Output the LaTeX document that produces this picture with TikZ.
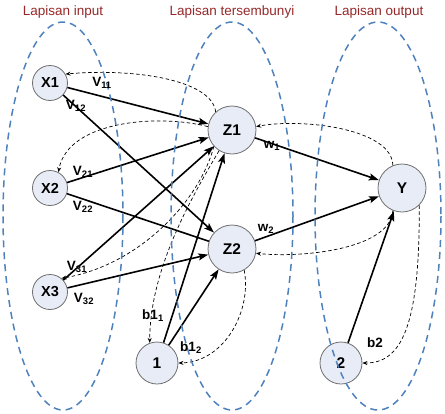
\documentclass[tikz,border=0pt]{standalone}
\usepackage{fontspec}
\setmainfont{Liberation Sans}
\usetikzlibrary{arrows.meta}
\definecolor{layerblue}{RGB}{79,129,189}
\definecolor{nodefill}{RGB}{232,236,246}
\definecolor{nodeline}{RGB}{110,110,110}
\definecolor{titlered}{RGB}{150,40,40}
\begin{document}
\begin{tikzpicture}[x=1pt,y=-1pt,
  neuron/.style={circle,draw=nodeline,line width=0.8pt,fill=nodefill,inner sep=0pt,font=\fontsize{15.5}{15.5}\selectfont\bfseries},
  xin/.style={neuron,minimum size=35pt,font=\fontsize{14.5}{14.5}\selectfont\bfseries},
  hid/.style={neuron,minimum size=48pt},
  bias/.style={neuron,minimum size=42pt},
  conn/.style={line width=1.6pt,-{Stealth[length=10pt,width=7pt,inset=2pt]}},
  plainconn/.style={line width=1.6pt},
  back/.style={line width=0.7pt,dash pattern=on 3.5pt off 2.5pt,-{Stealth[length=5pt,width=4pt]}},
  layer/.style={draw=layerblue,line width=1.5pt,dash pattern=on 7pt off 5pt},
  lbl/.style={font=\fontsize{13.5}{13.5}\selectfont\bfseries,inner sep=0pt},
  ttl/.style={text=titlered,font=\fontsize{13.5}{13.5}\selectfont,inner sep=0pt}]
\useasboundingbox (0,0) rectangle (445,413);

% titles
\node[ttl] (t1) at (63,12) {Lapisan input};
\node[ttl] (t2) at (232,12) {Lapisan tersembunyi};
\node[ttl] (t3) at (379,12) {Lapisan output};

% nodes
\node[xin] (X1) at (50,83) {X1};
\node[xin] (X2) at (50,188) {X2};
\node[xin] (X3) at (50,292) {X3};
\node[hid] (Z1) at (232,130) {Z1};
\node[hid] (Z2) at (232,249) {Z2};
\node[hid] (Y) at (402,188) {Y};
\node[bias] (B1) at (157,363) {1};
\node[bias] (B2) at (341,363) {2};

% forward connections
\draw[conn] (X1) -- (Z1);
\draw[conn] (X1) -- (Z2);
\draw[conn] (X2) -- (Z1);
\draw[plainconn] (X2) -- (Z2);
\draw[conn] (X3) -- (Z1);
\draw[conn] (X3) -- (Z2);
\draw[conn] (B1) -- (Z1);
\draw[conn] (B1) -- (Z2);
\draw[conn] (Z1) -- (Y);
\draw[conn] (Z2) -- (Y);
\draw[conn] (B2) -- (Y);

% backward (dashed) connections
\draw[back] (Z1.132) .. controls (212,80) and (135,68) .. (X1.30);
\draw[back] (Z1.172) .. controls (160,114) and (68,120) .. (X2.62);
\draw[back] (Z1.222) .. controls (200,200) and (140,265) .. (X3.50);
\draw[back] (Z1.238) .. controls (190,200) and (150,270) .. (B1.110);
\draw[back] (Z2.300) .. controls (252,310) and (225,362) .. (B1.0);
\draw[back] (Y.112) .. controls (392,128) and (300,118) .. (Z1.8);
\draw[back] (Y.248) .. controls (390,250) and (300,258) .. (Z2.-10);
\draw[back] (Y.-45) .. controls (420,330) and (400,363) .. (B2.0);

% layer ellipses
\draw[layer] (63,216) ellipse [x radius=60, y radius=194];
\draw[layer] (232,216) ellipse [x radius=61, y radius=194];
\draw[layer] (378,216) ellipse [x radius=63, y radius=194];

% weight labels
\node[lbl] (v11) at (102,83) {V\textsubscript{11}};
\node[lbl] (v12) at (76,106) {V\textsubscript{12}};
\node[lbl] (v21) at (83,172) {V\textsubscript{21}};
\node[lbl] (v22) at (83,207) {V\textsubscript{22}};
\node[lbl] (v31) at (77,267) {V\textsubscript{31}};
\node[lbl] (v32) at (84,299) {V\textsubscript{32}};
\node[lbl] (w1) at (272,146) {w\textsubscript{1}};
\node[lbl] (w2) at (266,229) {w\textsubscript{2}};
\node[lbl] (b11) at (153,316) {b1\textsubscript{1}};
\node[lbl] (b12) at (191,348) {b1\textsubscript{2}};
\node[lbl] (b2l) at (375,343) {b2};
\end{tikzpicture}
\end{document}
